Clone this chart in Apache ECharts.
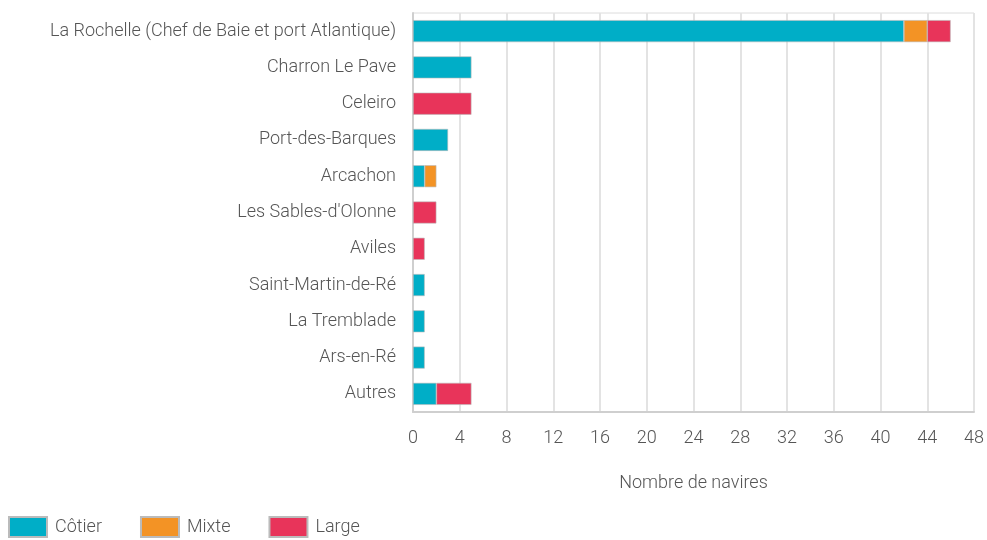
<!DOCTYPE html>
<html>
<head>
<meta charset="utf-8">
<script src="https://cdn.jsdelivr.net/npm/echarts@6/dist/echarts.min.js"></script>
<style>
  html, body { margin: 0; padding: 0; background: #fff; }
  #chart { width: 987px; height: 540px; }
</style>
</head>
<body>
<div id="chart"></div>
<script>
  // ports, top to bottom
  const ports = [
    'La Rochelle (Chef de Baie et port Atlantique)',
    'Charron Le Pave',
    'Celeiro',
    'Port-des-Barques',
    'Arcachon',
    "Les Sables-d'Olonne",
    'Aviles',
    'Saint-Martin-de-Ré',
    'La Tremblade',
    'Ars-en-Ré',
    'Autres'
  ];
  const cotier = [42, 5, 0, 3, 1, 0, 0, 1, 1, 1, 2];
  const mixte  = [2, 0, 0, 0, 1, 0, 0, 0, 0, 0, 0];
  const large  = [2, 0, 5, 0, 0, 2, 1, 0, 0, 0, 3];

  const font = 'Roboto';
  const textCol = '#555';

  const chart = echarts.init(document.getElementById('chart'));

  function bar(name, data, color) {
    return {
      name: name,
      type: 'bar',
      stack: 'total',
      barWidth: 22,
      data: data.map(v => v === 0 ? null : v),
      itemStyle: { color: color, borderColor: '#bbb', borderWidth: 0.6 }
    };
  }

  chart.setOption({
    animation: false,
    textStyle: { fontFamily: font, fontWeight: 300 },
    grid: {
      left: 413, right: 10, top: 13, bottom: 128,
      show: true, borderColor: '#dcdcdc', borderWidth: 1
    },
    legend: {
      left: 3, bottom: -3,
      itemWidth: 38, itemHeight: 20, itemGap: 38,
      icon: 'rect',
      textStyle: { fontFamily: font, fontWeight: 300, fontSize: 18, color: textCol, padding: [0, 0, 0, 3] },
      data: ['Côtier', 'Mixte', 'Large']
    },
    xAxis: {
      type: 'value',
      min: 0, max: 48, interval: 4,
      name: 'Nombre de navires',
      nameLocation: 'middle',
      nameGap: 62,
      nameTextStyle: { fontFamily: font, fontWeight: 300, fontSize: 18, color: textCol },
      axisLine: { show: true, lineStyle: { color: '#cfcfcf', width: 2 } },
      axisTick: { show: false },
      axisLabel: { margin: 17, fontFamily: font, fontWeight: 300, fontSize: 18, color: textCol },
      splitLine: { show: true, lineStyle: { color: '#e3e3e3', width: 2 } }
    },
    yAxis: {
      type: 'category',
      inverse: true,
      data: ports,
      axisLine: { show: true, lineStyle: { color: '#cfcfcf', width: 2 } },
      axisTick: { show: false },
      axisLabel: { margin: 17, fontFamily: font, fontWeight: 300, fontSize: 18, color: textCol },
      splitLine: { show: false }
    },
    series: [
      bar('Côtier', cotier, '#00aec7'),
      bar('Mixte', mixte, '#f39325'),
      bar('Large', large, '#e8345a')
    ]
  });
</script>
</body>
</html>
